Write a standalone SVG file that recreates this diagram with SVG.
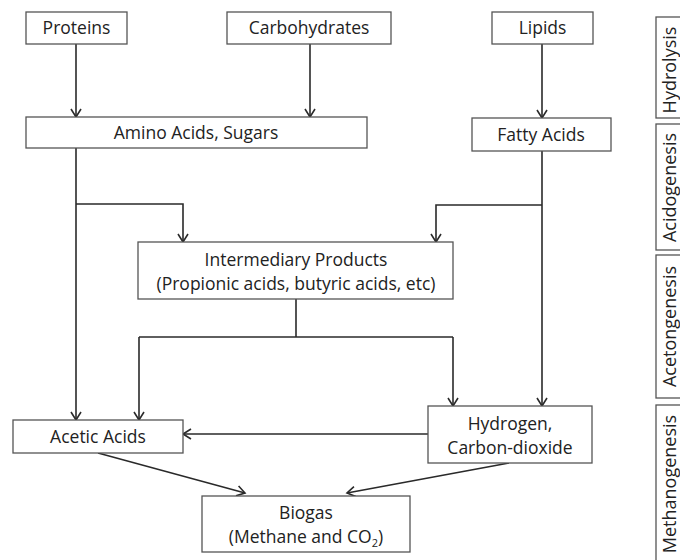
<svg xmlns="http://www.w3.org/2000/svg" width="680" height="560" viewBox="0 0 680 560">
<style>
.box{fill:#fff;stroke:#555;stroke-width:1.3}
.t{font-family:"Open Sans","Liberation Sans",sans-serif;font-size:17.5px;fill:#222;text-anchor:middle}
.s{font-family:"Open Sans","Liberation Sans",sans-serif;font-size:18px;fill:#222;text-anchor:middle}
.c{fill:none;stroke:#2a2a2a;stroke-width:1.6}
</style>
<defs>
<marker id="ah" viewBox="-10 -6 12 12" refX="0" refY="0" markerWidth="12" markerHeight="12" markerUnits="userSpaceOnUse" orient="auto">
<path d="M-8,-5 L0,0 L-8,5" fill="none" stroke="#2a2a2a" stroke-width="1.6"/>
</marker>
</defs>
<rect width="680" height="560" fill="#fff"/>
<g id="connectors">
<path class="c" d="M76,44 V117" marker-end="url(#ah)"/>
<path class="c" d="M310,44 V117" marker-end="url(#ah)"/>
<path class="c" d="M542,44 V118" marker-end="url(#ah)"/>
<path class="c" d="M76,148 V420" marker-end="url(#ah)"/>
<path class="c" d="M76,204 H183 V242" marker-end="url(#ah)"/>
<path class="c" d="M542,151 V406" marker-end="url(#ah)"/>
<path class="c" d="M542,205 H436 V242" marker-end="url(#ah)"/>
<path class="c" d="M296,299 V337"/>
<path class="c" d="M139,337 H453"/>
<path class="c" d="M139,337 V420" marker-end="url(#ah)"/>
<path class="c" d="M453,337 V406" marker-end="url(#ah)"/>
<path class="c" d="M428,434 H183" marker-end="url(#ah)"/>
<path class="c" d="M98,453 L245,493" marker-end="url(#ah)"/>
<path class="c" d="M509,463 L347,493" marker-end="url(#ah)"/>
</g>
<g id="proteins"><rect class="box" x="26" y="12" width="101" height="32"/><text class="t" x="76.5" y="34">Proteins</text></g>
<g id="carbohydrates"><rect class="box" x="227" y="12" width="164" height="32"/><text class="t" x="309" y="34">Carbohydrates</text></g>
<g id="lipids"><rect class="box" x="492" y="12" width="101" height="32"/><text class="t" x="542.5" y="34">Lipids</text></g>
<g id="amino"><rect class="box" x="26" y="117" width="341" height="31"/><text class="t" x="196" y="139">Amino Acids, Sugars</text></g>
<g id="fatty"><rect class="box" x="472" y="118" width="139" height="33"/><text class="t" x="541" y="141">Fatty Acids</text></g>
<g id="intermediary"><rect class="box" x="138" y="242" width="315" height="57"/><text class="t" x="296" y="266">Intermediary Products</text><text class="t" x="296" y="290">(Propionic acids, butyric acids, etc)</text></g>
<g id="acetic"><rect class="box" x="13" y="420" width="170" height="33"/><text class="t" x="98" y="443">Acetic Acids</text></g>
<g id="hydrogen"><rect class="box" x="428" y="406" width="164" height="57"/><text class="t" x="510" y="430">Hydrogen,</text><text class="t" x="510" y="454">Carbon-dioxide</text></g>
<g id="biogas"><rect class="box" x="202" y="496" width="208" height="56"/><text class="t" x="306" y="519">Biogas</text><text class="t" x="306" y="543">(Methane and CO<tspan font-size="11" dy="4">2</tspan><tspan dy="-4">)</tspan></text></g>
<g id="hydrolysis"><rect class="box" x="656" y="17" width="34" height="101"/><text class="s" transform="translate(675.5,70) rotate(-90)">Hydrolysis</text></g>
<g id="acidogenesis"><rect class="box" x="656" y="124" width="34" height="126"/><text class="s" transform="translate(675.5,187.5) rotate(-90)">Acidogenesis</text></g>
<g id="acetongenesis"><rect class="box" x="656" y="255" width="34" height="143"/><text class="s" transform="translate(675.5,326.5) rotate(-90)">Acetongenesis</text></g>
<g id="methanogenesis"><rect class="box" x="656" y="405" width="34" height="170"/><text class="s" transform="translate(675.5,484) rotate(-90)">Methanogenesis</text></g>
</svg>
